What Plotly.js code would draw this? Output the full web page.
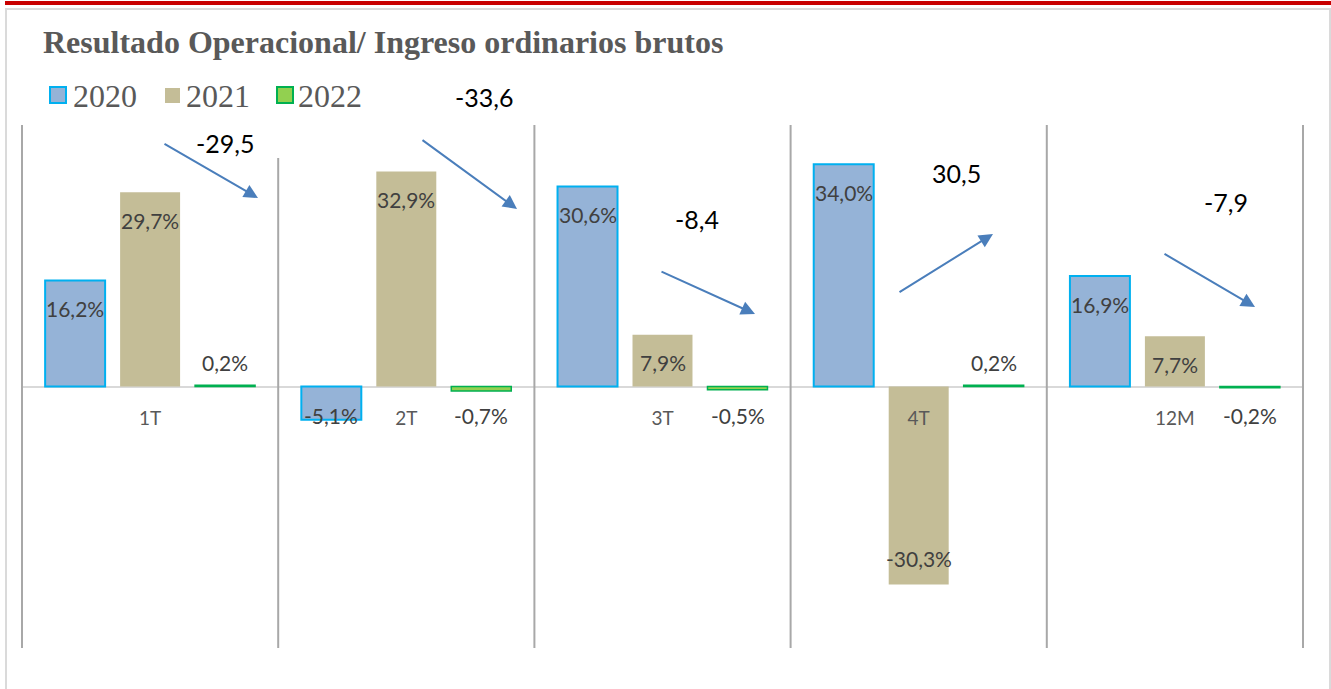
<!DOCTYPE html>
<html>
<head>
<meta charset="utf-8">
<script src="https://cdn.plot.ly/plotly-3.0.1.min.js"></script>
<style>
html,body{margin:0;padding:0;background:#fff;}
#wrap{position:relative;width:1331px;height:689px;overflow:hidden;background:#fff;}
#red{position:absolute;left:5px;top:1px;width:1326px;height:4px;background:#C80000;}
#frame{position:absolute;left:5px;top:8px;width:1326px;height:720px;box-sizing:border-box;border:2px solid #DADADA;border-bottom:none;}
#chart{position:absolute;left:0;top:0;width:1331px;height:689px;}
</style>
</head>
<body>
<div id="wrap"><div id="red"></div><div id="frame"></div><div id="chart"></div></div>
<script>
// ---- data ----
const categories = ['1T', '2T', '3T', '4T', '12M'];
const years = ['2020', '2021', '2022'];
const values2020 = [16.2, -5.1, 30.6, 34.0, 16.9];
const values2021 = [29.7, 32.9, 7.9, -30.3, 7.7];
const values2022 = [0.2, -0.7, -0.5, 0.2, -0.2];
const chartTitle = 'Resultado Operacional/ Ingreso ordinarios brutos';

// ---- style ----
const series = [values2020, values2021, values2022];
const fills = ['#95B3D7', '#C4BD97', '#92D050'];
const borders = ['#00B0F0', '#C4BD97', '#00B050'];
const borderW = [2, 0, 1.5];

const WIDTH = 1331, HEIGHT = 689;
const ML = 22, MR = 28, MT = 125, MB = 41;
const PW = WIDTH - ML - MR, PH = HEIGHT - MT - MB;
const PX = px => (px - ML) / PW;
const PY = py => (MT + PH - py) / PH;

function fmt(v) { return v.toFixed(1).replace('.', ','); }

const traces = series.map((vals, s) => ({
  type: 'bar', x: categories, y: vals, name: years[s],
  marker: { color: fills[s], line: { color: borders[s], width: borderW[s] } },
  textposition: 'none', hoverinfo: 'skip'
}));

const shapes = [];
const annotations = [];

// category separators
for (let k = 0; k <= categories.length; k++) {
  shapes.push({
    type: 'line', xref: 'paper', yref: 'paper',
    x0: k / categories.length, x1: k / categories.length,
    y0: 0, y1: k === 1 ? PY(158) : 1,
    line: { color: '#A8A8A8', width: 2 }
  });
}

// data labels
series.forEach((vals, s) => vals.forEach((v, i) => {
  let y, ys;
  if (v >= 5) { y = v; ys = -28; }
  else if (v >= 0) { y = v; ys = 23; }
  else if (v > -10) { y = 0; ys = -29; }
  else { y = v; ys = 26; }
  annotations.push({
    xref: 'x', yref: 'y', x: categories[i], y: y,
    xshift: (s - 1) * 75, yshift: ys,
    text: fmt(v) + '%', showarrow: false,
    xanchor: 'center', yanchor: 'middle',
    font: { family: 'Lato', size: 21, color: '#404040' }
  });
}));

// change arrows (2022 vs 2021)
const arrowTails = [[163, 143], [421, 139], [660, 271], [898, 293], [1163, 253]];
const arrowTips = [[258, 198], [517, 209], [755, 314], [993, 234], [1255, 307]];
const changeLabelPos = [[225, 143], [484, 97], [697, 219], [956, 173], [1226, 202]];
categories.forEach((c, i) => {
  const tip = arrowTips[i], tail = arrowTails[i];
  annotations.push({
    xref: 'paper', yref: 'paper', x: PX(tip[0]), y: PY(tip[1]),
    ax: tail[0] - tip[0], ay: tail[1] - tip[1],
    text: '', showarrow: true, arrowhead: 2, arrowsize: 1.4, arrowwidth: 2,
    arrowcolor: '#4A7EBB', standoff: 0, startstandoff: 0
  });
  const change = values2022[i] - values2021[i];
  annotations.push({
    xref: 'paper', yref: 'paper', x: PX(changeLabelPos[i][0]), y: PY(changeLabelPos[i][1]),
    text: fmt(change), showarrow: false, xanchor: 'center', yanchor: 'middle',
    font: { family: 'Lato', size: 25, color: '#000000' }
  });
});

// legend
const legendBoxes = [[50, 87, 66, 103], [165, 88, 180, 103], [277, 87, 293, 103]];
const legendTextX = [71, 184, 296];
years.forEach((yr, s) => {
  const b = legendBoxes[s];
  shapes.push({
    type: 'rect', xref: 'paper', yref: 'paper',
    x0: PX(b[0]), x1: PX(b[2]), y0: PY(b[3]), y1: PY(b[1]),
    fillcolor: fills[s], line: { color: borders[s], width: s === 1 ? 0 : 2 }
  });
  annotations.push({
    xref: 'paper', yref: 'paper', x: PX(legendTextX[s]), y: PY(96),
    text: yr, showarrow: false, xanchor: 'left', yanchor: 'middle',
    font: { family: 'Liberation Serif', size: 32, color: '#595959' }
  });
});

const layout = {
  width: WIDTH, height: HEIGHT,
  margin: { l: ML, r: MR, t: MT, b: MB, pad: 0 },
  paper_bgcolor: 'rgba(0,0,0,0)', plot_bgcolor: 'rgba(0,0,0,0)',
  barmode: 'group', bargap: 0.122, bargroupgap: 0.2,
  showlegend: false,
  title: {
    text: chartTitle,
    font: { family: 'Liberation Serif', size: 32, color: '#595959', weight: 'bold' },
    xref: 'container', yref: 'container', x: 43 / WIDTH, xanchor: 'left',
    y: 1 - 42 / HEIGHT, yanchor: 'middle'
  },
  xaxis: {
    type: 'category', anchor: 'free', position: 0.5, range: [-0.5, 4.5],
    showgrid: false, zeroline: false, showline: false,
    ticks: 'outside', ticklen: 15, tickcolor: 'rgba(0,0,0,0)',
    tickfont: { family: 'Lato', size: 19, color: '#595959' }, fixedrange: true
  },
  yaxis: {
    range: [-40, 40], showticklabels: false, showgrid: false, ticks: '',
    zeroline: true, zerolinecolor: '#D9D9D9', zerolinewidth: 2, fixedrange: true
  },
  shapes: shapes,
  annotations: annotations
};

Plotly.newPlot('chart', traces, layout, { displayModeBar: false, staticPlot: true });
</script>
</body>
</html>
